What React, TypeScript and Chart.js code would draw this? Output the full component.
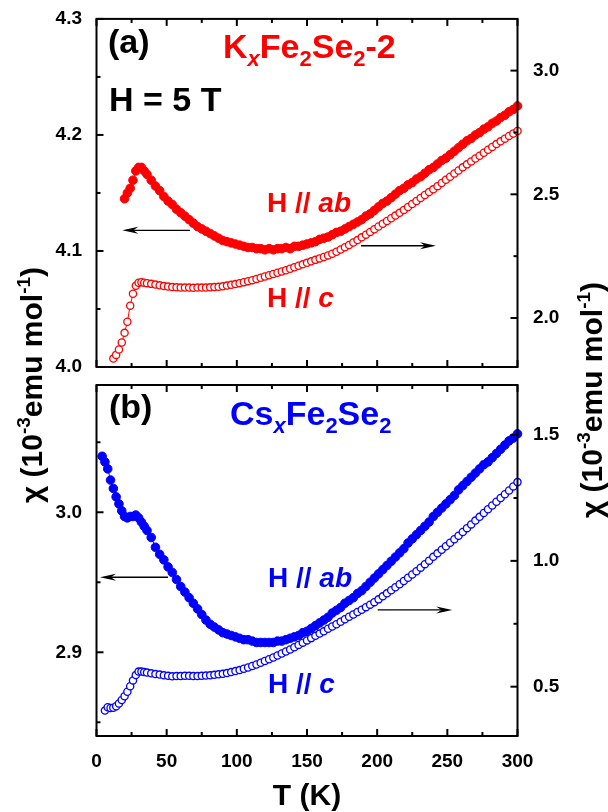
import React, { useEffect, useRef } from 'react';
import { Chart, registerables } from 'chart.js';
Chart.register(...registerables);

// Temperature grid (K)
const T = [4,6,8,10,12,14,16,18,20,22,24,26,28,30,32,34,36,
  39,42,45,48,51,54,57,60,63,66,
  69,72,75,78,81,84,87,90,93,96,
  99,102,105,108,111,114,117,120,123,126,
  129,132,135,138,141,144,147,150,153,156,
  159,162,165,168,171,174,177,180,183,186,
  189,192,195,198,201,204,207,210,213,216,
  219,222,225,228,231,234,237,240,243,246,
  249,252,255,258,261,264,267,270,273,276,
  279,282,285,288,291,294,297,300];

// (a) KxFe2Se2-2, H // ab (left axis)
const kAb = [null,null,null,null,null,null,null,null,
  4.145,4.150,4.154,4.161,4.169,4.172,4.172,4.169,4.166,
  4.161,4.156,4.152,4.147,4.143,4.140,4.136,4.133,4.130,4.127,
  4.124,4.121,4.119,4.117,4.115,4.113,4.111,4.109,4.108,4.107,
  4.106,4.105,4.104,4.103,4.103,4.102,4.102,4.101,4.102,4.101,
  4.102,4.102,4.103,4.102,4.104,4.104,4.105,4.106,4.107,4.108,
  4.110,4.111,4.112,4.114,4.116,4.117,4.119,4.121,4.123,4.125,
  4.127,4.130,4.132,4.135,4.138,4.141,4.143,4.146,4.149,4.152,
  4.154,4.157,4.159,4.162,4.164,4.167,4.170,4.172,4.175,4.178,
  4.180,4.183,4.186,4.189,4.192,4.195,4.197,4.200,4.202,4.205,
  4.207,4.210,4.212,4.215,4.217,4.220,4.222,4.225];

// (a) KxFe2Se2-2, H // c (right axis)
const kC = [null,null,null,null,
  1.836,1.851,1.873,1.901,1.940,1.985,2.050,2.098,2.130,2.143,2.145,2.143,2.141,
  2.138,2.135,2.132,2.129,2.127,2.125,2.124,2.123,2.123,2.123,
  2.122,2.123,2.123,2.123,2.124,2.125,2.126,2.128,2.131,2.134,
  2.137,2.141,2.145,2.149,2.153,2.158,2.163,2.168,2.173,2.178,
  2.183,2.188,2.193,2.199,2.205,2.211,2.217,2.223,2.229,2.235,
  2.241,2.247,2.253,2.260,2.268,2.277,2.286,2.295,2.305,2.315,
  2.326,2.337,2.348,2.359,2.370,2.381,2.392,2.403,2.414,2.425,
  2.437,2.449,2.461,2.473,2.485,2.497,2.509,2.520,2.533,2.546,
  2.559,2.571,2.584,2.596,2.609,2.621,2.633,2.645,2.656,2.668,
  2.680,2.691,2.703,2.714,2.725,2.736,2.746,2.756];

// (b) CsxFe2Se2, H // ab (left axis)
const csAb = [3.040,3.036,3.031,3.023,3.017,3.011,3.006,3.001,2.997,2.996,2.997,2.997,2.998,2.996,2.993,2.990,2.987,
  2.982,2.975,2.970,2.966,2.961,2.957,2.952,2.947,2.943,2.939,
  2.935,2.931,2.927,2.923,2.920,2.918,2.916,2.914,2.913,2.912,
  2.911,2.910,2.909,2.909,2.908,2.907,2.907,2.907,2.907,2.907,
  2.908,2.908,2.909,2.910,2.911,2.912,2.914,2.915,2.917,2.919,
  2.921,2.923,2.925,2.928,2.930,2.932,2.935,2.937,2.939,2.942,
  2.944,2.947,2.950,2.953,2.956,2.959,2.962,2.965,2.968,2.971,
  2.974,2.978,2.981,2.984,2.987,2.990,2.993,2.997,3.000,3.003,
  3.006,3.009,3.012,3.016,3.019,3.022,3.025,3.028,3.031,3.034,
  3.036,3.039,3.042,3.045,3.048,3.051,3.053,3.056];

// (b) CsxFe2Se2, H // c (right axis)
const csC = [null,
  0.405,0.418,0.415,0.416,0.422,0.433,0.447,0.462,0.480,0.502,0.525,0.546,0.560,0.560,0.558,0.556,
  0.553,0.550,0.548,0.545,0.543,0.541,0.542,0.542,0.543,0.543,
  0.542,0.542,0.543,0.544,0.545,0.547,0.549,0.551,0.554,0.558,
  0.562,0.566,0.571,0.576,0.582,0.588,0.595,0.602,0.609,0.616,
  0.624,0.632,0.640,0.648,0.657,0.666,0.675,0.684,0.693,0.702,
  0.711,0.720,0.730,0.739,0.748,0.758,0.768,0.778,0.787,0.797,
  0.806,0.816,0.826,0.836,0.847,0.859,0.871,0.883,0.895,0.907,
  0.920,0.933,0.946,0.959,0.973,0.987,1.001,1.016,1.030,1.044,
  1.058,1.072,1.086,1.100,1.115,1.130,1.145,1.160,1.175,1.190,
  1.205,1.220,1.235,1.250,1.265,1.280,1.296,1.313];

// Tick values
const xTicks = [0, 50, 100, 150, 200, 250, 300];
const xMinor = [25, 75, 125, 175, 225, 275];
const aLeftTicks = [4.0, 4.1, 4.2, 4.3];
const aLeftMinor = [4.05, 4.15, 4.25];
const aRightTicks = [2.0, 2.5, 3.0];
const aRightMinor = [2.25, 2.75];
const bLeftTicks = [2.9, 3.0];
const bLeftMinor = [2.85, 2.95, 3.05];
const bRightTicks = [0.5, 1.0, 1.5];
const bRightMinor = [0.75, 1.25];

const FAMILY = '"Liberation Sans", Arial, Helvetica, sans-serif';
const RED = 'rgb(255,0,0)';
const BLUE = 'rgb(0,0,255)';

type Part = { t: string; size: number; italic?: boolean; dy?: number };

function setFont(ctx: CanvasRenderingContext2D, p: Part) {
  ctx.font = `${p.italic ? 'italic ' : ''}bold ${p.size}px ${FAMILY}`;
}
function richWidth(ctx: CanvasRenderingContext2D, parts: Part[]) {
  let w = 0;
  for (const p of parts) { setFont(ctx, p); w += ctx.measureText(p.t).width; }
  return w;
}
function drawRich(ctx: CanvasRenderingContext2D, x: number, y: number, parts: Part[], color: string) {
  ctx.save();
  ctx.fillStyle = color;
  ctx.textBaseline = 'alphabetic';
  ctx.textAlign = 'left';
  let cx = x;
  for (const p of parts) {
    setFont(ctx, p);
    ctx.fillText(p.t, cx, y + (p.dy || 0));
    cx += ctx.measureText(p.t).width;
  }
  ctx.restore();
}
function drawRotated(ctx: CanvasRenderingContext2D, bx: number, cy: number, parts: Part[]) {
  ctx.save();
  ctx.translate(bx, cy);
  ctx.rotate(-Math.PI / 2);
  const w = richWidth(ctx, parts);
  drawRich(ctx, -w / 2, 0, parts, '#000');
  ctx.restore();
}
function arrow(ctx: CanvasRenderingContext2D, x1: number, y: number, x2: number) {
  const d = Math.sign(x2 - x1);
  ctx.save();
  ctx.strokeStyle = '#000';
  ctx.fillStyle = '#000';
  ctx.lineWidth = 1.3;
  ctx.beginPath(); ctx.moveTo(x1, y); ctx.lineTo(x2 - d * 8, y); ctx.stroke();
  ctx.beginPath();
  ctx.moveTo(x2, y);
  ctx.lineTo(x2 - d * 16, y - 3.5);
  ctx.lineTo(x2 - d * 11, y);
  ctx.lineTo(x2 - d * 16, y + 3.5);
  ctx.closePath();
  ctx.fill();
  ctx.restore();
}

function frameAndTicks(chart: any, lMaj: number[], lMin: number[], rMaj: number[], rMin: number[]) {
  const { ctx, chartArea: a, scales } = chart;
  const x = scales.x, yL = scales.yL, yR = scales.yR;
  ctx.save();
  ctx.strokeStyle = '#000';
  ctx.lineWidth = 2;
  ctx.strokeRect(a.left, a.top, a.right - a.left, a.bottom - a.top);
  const seg = (px: number, py: number, dx: number, dy: number) => {
    ctx.beginPath(); ctx.moveTo(px, py); ctx.lineTo(px + dx, py + dy); ctx.stroke();
  };
  for (const v of xTicks) { const p = x.getPixelForValue(v); seg(p, a.bottom, 0, -7); seg(p, a.top, 0, 7); }
  for (const v of xMinor) { const p = x.getPixelForValue(v); seg(p, a.bottom, 0, -4); seg(p, a.top, 0, 4); }
  for (const v of lMaj) seg(a.left, yL.getPixelForValue(v), 7, 0);
  for (const v of lMin) seg(a.left, yL.getPixelForValue(v), 4, 0);
  for (const v of rMaj) seg(a.right, yR.getPixelForValue(v), -7, 0);
  for (const v of rMin) seg(a.right, yR.getPixelForValue(v), -4, 0);
  ctx.restore();
}

function pts(arr: (number | null)[]) {
  return T.map((t, i) => ({ x: t, y: arr[i] })).filter((p) => p.y !== null);
}

function filledSet(data: any, color: string, axis: string) {
  return {
    data, yAxisID: axis, showLine: true, borderColor: color, borderWidth: 1,
    pointStyle: 'circle', pointRadius: 4.3, pointBackgroundColor: color, pointBorderColor: color,
    pointBorderWidth: 1, clip: false, tension: 0,
  };
}
function openSet(data: any, color: string, axis: string) {
  return {
    data, yAxisID: axis, showLine: true, borderColor: color, borderWidth: 1,
    pointStyle: 'circle', pointRadius: 3.6, pointBackgroundColor: '#fff', pointBorderColor: color,
    pointBorderWidth: 1.3, clip: false, tension: 0,
  };
}

const tickFont = { family: FAMILY, size: 19, weight: 'bold' as const };

function yScale(pos: 'left' | 'right', min: number, max: number, ticks: number[], width: number, show = true) {
  return {
    type: 'linear', position: pos, min, max,
    grid: { display: false }, border: { display: false },
    ticks: { display: show, color: '#000', font: tickFont, padding: pos === 'left' ? 6.5 : 7.5,
      callback: (v: any) => Number(v).toFixed(1) },
    afterBuildTicks: (s: any) => { s.ticks = ticks.map((v) => ({ value: v })); },
    afterFit: (s: any) => { s.width = width; },
  };
}
function xScale(show: boolean, height: number) {
  return {
    type: 'linear', min: 0, max: 300,
    grid: { display: false }, border: { display: false },
    ticks: { display: show, color: '#000', font: tickFont, padding: 6, maxRotation: 0,
      callback: (v: any) => String(v) },
    afterBuildTicks: (s: any) => { s.ticks = xTicks.map((v) => ({ value: v })); },
    afterFit: (s: any) => { s.height = height; },
  };
}

export default function App() {
  const refA = useRef<HTMLCanvasElement>(null);
  const refB = useRef<HTMLCanvasElement>(null);

  useEffect(() => {
    const plugA = {
      id: 'decoA',
      afterDraw(chart: any) {
        const { ctx, scales } = chart;
        frameAndTicks(chart, aLeftTicks, aLeftMinor, aRightTicks, aRightMinor);
        const x = scales.x, yL = scales.yL, yR = scales.yR;
        arrow(ctx, x.getPixelForValue(66.6), yL.getPixelForValue(4.1178), x.getPixelForValue(18.4));
        arrow(ctx, x.getPixelForValue(188.5), yR.getPixelForValue(2.292), x.getPixelForValue(241.9));
        drawRich(ctx, 108, 53, [{ t: '(a)', size: 34 }], '#000');
        drawRich(ctx, 109, 111, [{ t: 'H = 5 T', size: 34 }], '#000');
        drawRich(ctx, 223, 58, [
          { t: 'K', size: 34 }, { t: 'x', size: 22, italic: true, dy: 8 },
          { t: 'Fe', size: 34 }, { t: '2', size: 22, dy: 8 },
          { t: 'Se', size: 34 }, { t: '2', size: 22, dy: 8 },
          { t: '-2', size: 34 },
        ], RED);
        drawRich(ctx, 267, 211.5, [{ t: 'H // ', size: 28 }, { t: 'ab', size: 28, italic: true }], RED);
        drawRich(ctx, 267, 306.5, [{ t: 'H // ', size: 28 }, { t: 'c', size: 28, italic: true }], RED);
      },
    };
    const plugB = {
      id: 'decoB',
      afterDraw(chart: any) {
        const { ctx, scales } = chart;
        frameAndTicks(chart, bLeftTicks, bLeftMinor, bRightTicks, bRightMinor);
        const x = scales.x, yL = scales.yL, yR = scales.yR;
        arrow(ctx, x.getPixelForValue(51), yL.getPixelForValue(2.9536), x.getPixelForValue(2.5));
        arrow(ctx, x.getPixelForValue(200.4), yR.getPixelForValue(0.805), x.getPixelForValue(253.5));
        drawRich(ctx, 109, 418, [{ t: '(b)', size: 34 }], '#000');
        drawRich(ctx, 230, 425, [
          { t: 'Cs', size: 34 }, { t: 'x', size: 22, italic: true, dy: 8 },
          { t: 'Fe', size: 34 }, { t: '2', size: 22, dy: 8 },
          { t: 'Se', size: 34 }, { t: '2', size: 22, dy: 8 },
        ], BLUE);
        drawRich(ctx, 268, 587, [{ t: 'H // ', size: 28 }, { t: 'ab', size: 28, italic: true }], BLUE);
        drawRich(ctx, 268, 693, [{ t: 'H // ', size: 28 }, { t: 'c', size: 28, italic: true }], BLUE);
        // x title
        const tp: Part[] = [{ t: 'T (K)', size: 30 }];
        const w = richWidth(ctx, tp);
        drawRich(ctx, (chart.chartArea.left + chart.chartArea.right) / 2 - w / 2, 804.5, tp, '#000');
        const yt: Part[] = [
          { t: 'χ (10', size: 30 }, { t: '-3', size: 19, dy: -12 },
          { t: 'emu mol', size: 30 }, { t: '-1', size: 19, dy: -12 },
          { t: ')', size: 30 },
        ];
        drawRotated(ctx, 42, 385, yt);
        drawRotated(ctx, 602, 400, yt);
      },
    };

    const chartA = new Chart(refA.current as HTMLCanvasElement, {
      type: 'line',
      data: {
        datasets: [
          openSet(pts(kC), RED, 'yR') as any,
          filledSet(pts(kAb), RED, 'yL') as any,
        ],
      },
      options: {
        responsive: false, animation: false, devicePixelRatio: 1,
        layout: { padding: { top: 17, bottom: 432, left: 0, right: 0 }, autoPadding: false } as any,
        plugins: { legend: { display: false }, tooltip: { enabled: false } },
        scales: {
          x: xScale(false, 13) as any,
          yL: yScale('left', 4.0, 4.3, aLeftTicks, 96.5) as any,
          yR: yScale('right', 1.802, 3.209, aRightTicks, 90.5) as any,
        },
      },
      plugins: [plugA],
    });

    const chartB = new Chart(refB.current as HTMLCanvasElement, {
      type: 'line',
      data: {
        datasets: [
          openSet(pts(csC), BLUE, 'yR') as any,
          filledSet(pts(csAb), BLUE, 'yL') as any,
        ],
      },
      options: {
        responsive: false, animation: false, devicePixelRatio: 1,
        layout: { padding: { top: 385, bottom: 0, left: 0, right: 0 }, autoPadding: false } as any,
        plugins: { legend: { display: false }, tooltip: { enabled: false } },
        scales: {
          x: xScale(true, 76) as any,
          yL: yScale('left', 2.8402, 3.0909, bLeftTicks, 96.5) as any,
          yR: yScale('right', 0.304, 1.699, bRightTicks, 90.5) as any,
        },
      },
      plugins: [plugB],
    });

    return () => { chartA.destroy(); chartB.destroy(); };
  }, []);

  return (
    <div style={{ position: 'absolute', left: 0, top: 0, width: 608, height: 812, background: '#fff' }}>
      <canvas ref={refA} width={608} height={812} style={{ position: 'absolute', left: 0, top: 0 }} />
      <canvas ref={refB} width={608} height={812} style={{ position: 'absolute', left: 0, top: 0 }} />
    </div>
  );
}
